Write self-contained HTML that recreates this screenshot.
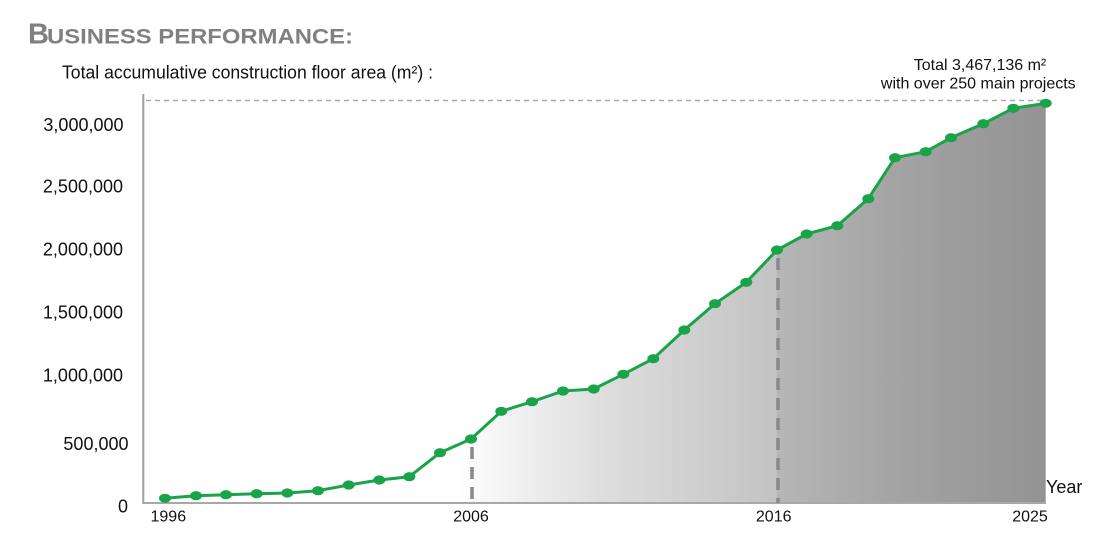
<!DOCTYPE html>
<html>
<head>
<meta charset="utf-8">
<style>
  html, body { margin: 0; padding: 0; background: #ffffff; }
  body { width: 1110px; height: 540px; overflow: hidden; }
  svg { display: block; }
  text { font-family: "Liberation Sans", Arial, sans-serif; }
</style>
</head>
<body>
<svg width="1110" height="540" viewBox="0 0 1110 540" xmlns="http://www.w3.org/2000/svg">
  <defs>
    <linearGradient id="fillGrad" gradientUnits="userSpaceOnUse" x1="440" y1="0" x2="1046" y2="0">
      <stop offset="0" stop-color="#ffffff"/>
      <stop offset="0.025" stop-color="#ffffff"/>
      <stop offset="0.264" stop-color="#dedede"/>
      <stop offset="0.554" stop-color="#c3c3c3"/>
      <stop offset="0.558" stop-color="#b6b6b6"/>
      <stop offset="0.759" stop-color="#a3a3a3"/>
      <stop offset="1" stop-color="#939393"/>
    </linearGradient>
  </defs>

  <!-- Title -->
  <text x="28" y="43.5" font-size="29" font-weight="bold" fill="#808080">B</text>
  <text x="47" y="43.5" font-size="21" font-weight="bold" fill="#808080" textLength="306" lengthAdjust="spacingAndGlyphs">USINESS PERFORMANCE:</text>

  <!-- Subtitle -->
  <text x="62" y="78.3" font-size="18" fill="#111" textLength="371" lengthAdjust="spacingAndGlyphs">Total accumulative construction floor area (m²) :</text>

  <!-- Annotation -->
  <text x="980" y="70" font-size="16" fill="#111" text-anchor="middle">Total 3,467,136 m²</text>
  <text x="978.3" y="88.3" font-size="16" fill="#111" text-anchor="middle">with over 250 main projects</text>

  <!-- Area fill -->
  <polygon fill="url(#fillGrad)" points="
    165,498.3 196,495.7 226,494.7 256.7,493.7 287.3,493 318,490.7 348.7,485 379.3,480 409.3,476.7 440,452.7
    471,439 501.3,411.3 532,401.7 563,391 593.7,389 623.3,374.3 653.3,358.7 684.3,330 715,303.7 746.3,282.3
    777,250 806.7,234 837.3,225.7 868.3,198.7 895,157.7 925.7,151.7 951,137.7 983.3,123.7 1013.3,108.3 1045.7,103.3
    1045.7,503 165,503"/>

  <!-- Top dashed reference line -->
  <line x1="146" y1="100.5" x2="1045" y2="100.5" stroke="#aaaaaa" stroke-width="1.5" stroke-dasharray="5 4"/>

  <!-- Axes -->
  <line x1="143.3" y1="94" x2="143.3" y2="504" stroke="#a0a0a0" stroke-width="2"/>
  <line x1="142.3" y1="503" x2="1046" y2="503" stroke="#a8a8a8" stroke-width="2"/>

  <!-- Dashed verticals -->
  <line x1="472" y1="447" x2="472" y2="503" stroke="#888888" stroke-width="3.5" stroke-dasharray="12 8"/>
  <line x1="778" y1="258" x2="778" y2="503" stroke="#888888" stroke-width="3.5" stroke-dasharray="12 8"/>

  <!-- Data line -->
  <polyline fill="none" stroke="#19a44a" stroke-width="3" stroke-linejoin="round" points="
    165,498.3 196,495.7 226,494.7 256.7,493.7 287.3,493 318,490.7 348.7,485 379.3,480 409.3,476.7 440,452.7
    471,439 501.3,411.3 532,401.7 563,391 593.7,389 623.3,374.3 653.3,358.7 684.3,330 715,303.7 746.3,282.3
    777,250 806.7,234 837.3,225.7 868.3,198.7 895,157.7 925.7,151.7 951,137.7 983.3,123.7 1013.3,108.3 1045.7,103.3"/>

  <!-- Dots -->
  <g fill="#19a44a">
    <ellipse cx="165" cy="498.3" rx="6" ry="4.6"/>
    <ellipse cx="196" cy="495.7" rx="6" ry="4.6"/>
    <ellipse cx="226" cy="494.7" rx="6" ry="4.6"/>
    <ellipse cx="256.7" cy="493.7" rx="6" ry="4.6"/>
    <ellipse cx="287.3" cy="493" rx="6" ry="4.6"/>
    <ellipse cx="318" cy="490.7" rx="6" ry="4.6"/>
    <ellipse cx="348.7" cy="485" rx="6" ry="4.6"/>
    <ellipse cx="379.3" cy="480" rx="6" ry="4.6"/>
    <ellipse cx="409.3" cy="476.7" rx="6" ry="4.6"/>
    <ellipse cx="440" cy="452.7" rx="6" ry="4.6"/>
    <ellipse cx="471" cy="439" rx="6" ry="4.6"/>
    <ellipse cx="501.3" cy="411.3" rx="6" ry="4.6"/>
    <ellipse cx="532" cy="401.7" rx="6" ry="4.6"/>
    <ellipse cx="563" cy="391" rx="6" ry="4.6"/>
    <ellipse cx="593.7" cy="389" rx="6" ry="4.6"/>
    <ellipse cx="623.3" cy="374.3" rx="6" ry="4.6"/>
    <ellipse cx="653.3" cy="358.7" rx="6" ry="4.6"/>
    <ellipse cx="684.3" cy="330" rx="6" ry="4.6"/>
    <ellipse cx="715" cy="303.7" rx="6" ry="4.6"/>
    <ellipse cx="746.3" cy="282.3" rx="6" ry="4.6"/>
    <ellipse cx="777" cy="250" rx="6" ry="4.6"/>
    <ellipse cx="806.7" cy="234" rx="6" ry="4.6"/>
    <ellipse cx="837.3" cy="225.7" rx="6" ry="4.6"/>
    <ellipse cx="868.3" cy="198.7" rx="6" ry="4.6"/>
    <ellipse cx="895" cy="157.7" rx="6" ry="4.6"/>
    <ellipse cx="925.7" cy="151.7" rx="6" ry="4.6"/>
    <ellipse cx="951" cy="137.7" rx="6" ry="4.6"/>
    <ellipse cx="983.3" cy="123.7" rx="6" ry="4.6"/>
    <ellipse cx="1013.3" cy="108.3" rx="6" ry="4.6"/>
    <ellipse cx="1045.7" cy="103.3" rx="6" ry="4.6"/>
  </g>

  <!-- Y labels -->
  <g font-size="18" fill="#111" text-anchor="end">
    <text x="123.5" y="131">3,000,000</text>
    <text x="123" y="192.3">2,500,000</text>
    <text x="123" y="255.7">2,000,000</text>
    <text x="123" y="318.3">1,500,000</text>
    <text x="123" y="381.7">1,000,000</text>
    <text x="128.5" y="450">500,000</text>
    <text x="128" y="512.7">0</text>
  </g>

  <!-- X labels -->
  <g font-size="16" fill="#111" text-anchor="middle">
    <text x="168.3" y="521.7">1996</text>
    <text x="471" y="521.7">2006</text>
    <text x="773.7" y="521.7">2016</text>
    <text x="1030" y="521.7">2025</text>
  </g>
  <text x="1046" y="493" font-size="18" fill="#111">Year</text>
</svg>
</body>
</html>
